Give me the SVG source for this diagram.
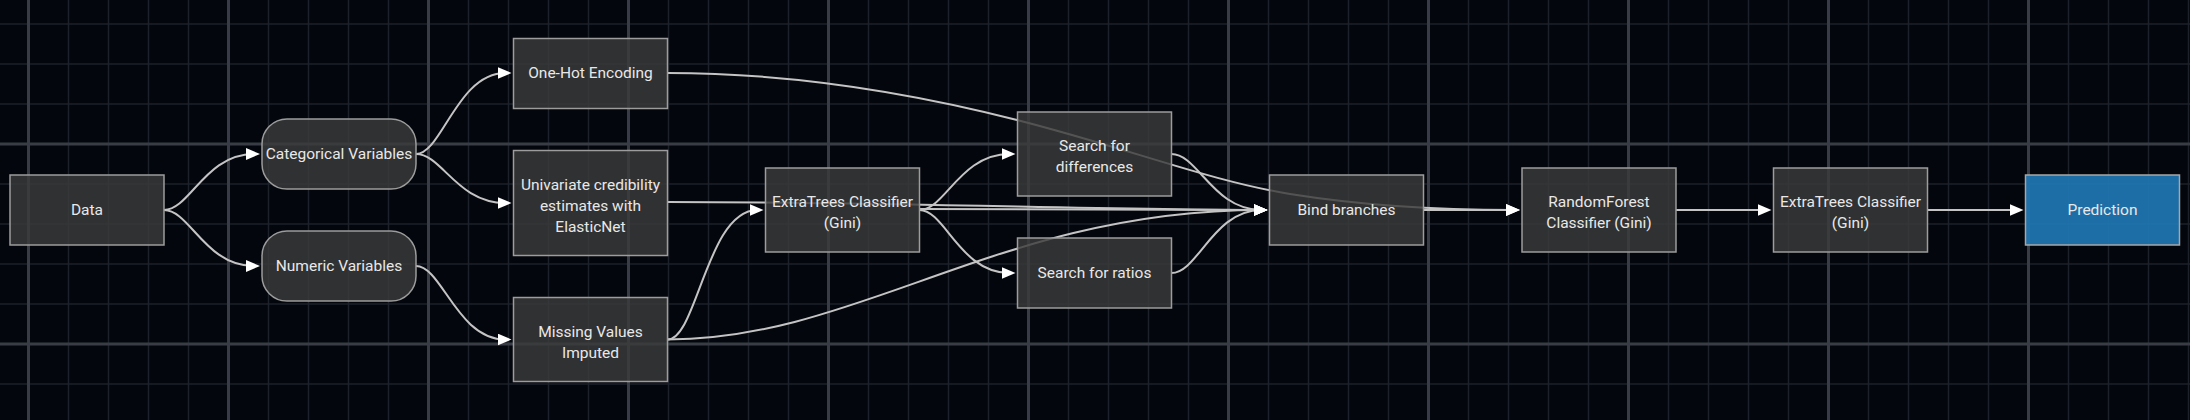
<svg xmlns="http://www.w3.org/2000/svg" width="2190" height="420" viewBox="0 0 2190 420">
<style>
.bg{fill:#03060d}
.gmin{stroke:#1d2129;stroke-width:1.5;fill:none}
.gmaj{stroke:#393c44;stroke-width:3;fill:none}
.node rect{fill:#3a3a3b;fill-opacity:0.82;stroke:#9c9c9c;stroke-width:1.5}
.node.blue rect{fill:#1f77b4;fill-opacity:0.92;stroke:#a8a8a8}
.node text{font-family:Roboto,"Liberation Sans",sans-serif;font-size:15.5px;fill:#e8e8e8;text-anchor:middle}
.edge{fill:none;stroke:#c4c4c4;stroke-width:2;marker-end:url(#arr)}
</style>
<defs>
<marker id="arr" viewBox="0 0 14 12" markerUnits="userSpaceOnUse" markerWidth="14" markerHeight="12" refX="8" refY="6" orient="auto">
<path d="M0,0 L14,6 L0,12 z" fill="#ffffff"/>
</marker>
</defs>
<rect class="bg" x="0" y="0" width="2190" height="420"/>
<g id="grid">
<path class="gmin" d="M28.5 0V420M68.5 0V420M108.5 0V420M148.5 0V420M188.5 0V420M228.5 0V420M268.5 0V420M308.5 0V420M348.5 0V420M388.5 0V420M428.5 0V420M468.5 0V420M508.5 0V420M548.5 0V420M588.5 0V420M628.5 0V420M668.5 0V420M708.5 0V420M748.5 0V420M788.5 0V420M828.5 0V420M868.5 0V420M908.5 0V420M948.5 0V420M988.5 0V420M1028.5 0V420M1068.5 0V420M1108.5 0V420M1148.5 0V420M1188.5 0V420M1228.5 0V420M1268.5 0V420M1308.5 0V420M1348.5 0V420M1388.5 0V420M1428.5 0V420M1468.5 0V420M1508.5 0V420M1548.5 0V420M1588.5 0V420M1628.5 0V420M1668.5 0V420M1708.5 0V420M1748.5 0V420M1788.5 0V420M1828.5 0V420M1868.5 0V420M1908.5 0V420M1948.5 0V420M1988.5 0V420M2028.5 0V420M2068.5 0V420M2108.5 0V420M2148.5 0V420M2188.5 0V420M0 24H2190M0 64H2190M0 104H2190M0 184H2190M0 224H2190M0 264H2190M0 304H2190M0 384H2190"/>
<path class="gmaj" d="M28.5 0V420M228.5 0V420M428.5 0V420M628.5 0V420M828.5 0V420M1028.5 0V420M1228.5 0V420M1428.5 0V420M1628.5 0V420M1828.5 0V420M2028.5 0V420M0 144H2190M0 344H2190"/>
</g>
<g id="edges">
<path class="edge" d="M164,210 C190,210 205,154 254,154"/>
<path class="edge" d="M164,210 C190,210 205,266 254,266"/>
<path class="edge" d="M416,154 C442,154 457,73 505.5,73"/>
<path class="edge" d="M416,154 C442,154 457,203 505.5,203"/>
<path class="edge" d="M416,266 C442,266 457,339.5 505.5,339.5"/>
<path class="edge" d="M667.5,73 C760,73 880,85 1017,120 C1127,148 1210,181 1290,194 C1340,202 1420,210 1514,210"/>
<path class="edge" d="M667.5,202 C900,202 1100,210 1261.5,210"/>
<path class="edge" d="M667.5,339.5 C697,339.5 707,210 757.5,210"/>
<path class="edge" d="M667.5,339.5 C860,339.5 1000,210 1261.5,210"/>
<path class="edge" d="M919.5,210 C945,210 960,154 1009.5,154"/>
<path class="edge" d="M919.5,210 C945,210 960,273 1009.5,273"/>
<path class="edge" d="M919.5,209 C1050,209 1150,210 1261.5,210"/>
<path class="edge" d="M1171.5,154 C1198,154 1213,210 1261.5,210"/>
<path class="edge" d="M1171.5,273 C1198,273 1213,210 1261.5,210"/>
<path class="edge" d="M1423.5,210 L1514,210"/>
<path class="edge" d="M1676,210 L1765.5,210"/>
<path class="edge" d="M1927.5,210 L2017.5,210"/>
</g>
<g id="n-data" class="node"><rect x="10" y="175" width="154" height="70"/><text x="87" y="214.5">Data</text></g>
<g id="n-cat" class="node"><rect x="262" y="119" width="154" height="70" rx="25" ry="25"/><text x="339" y="158.5">Categorical Variables</text></g>
<g id="n-num" class="node"><rect x="262" y="231" width="154" height="70" rx="25" ry="25"/><text x="339" y="270.5">Numeric Variables</text></g>
<g id="n-onehot" class="node"><rect x="513.5" y="38.5" width="154" height="70"/><text x="590.5" y="78">One-Hot Encoding</text></g>
<g id="n-univ" class="node"><rect x="513.5" y="150.5" width="154" height="105"/><text x="590.5" y="189.5">Univariate credibility</text><text x="590.5" y="210.5">estimates with</text><text x="590.5" y="231.5">ElasticNet</text></g>
<g id="n-missing" class="node"><rect x="513.5" y="297.5" width="154" height="84"/><text x="590.5" y="336.5">Missing Values</text><text x="590.5" y="357.5">Imputed</text></g>
<g id="n-et1" class="node"><rect x="765.5" y="168" width="154" height="84"/><text x="842.5" y="207">ExtraTrees Classifier</text><text x="842.5" y="228">(Gini)</text></g>
<g id="n-sdiff" class="node"><rect x="1017.5" y="112" width="154" height="84"/><text x="1094.5" y="151">Search for</text><text x="1094.5" y="172">differences</text></g>
<g id="n-sratio" class="node"><rect x="1017.5" y="238" width="154" height="70"/><text x="1094.5" y="277.5">Search for ratios</text></g>
<g id="n-bind" class="node"><rect x="1269.5" y="175" width="154" height="70"/><text x="1346.5" y="214.5">Bind branches</text></g>
<g id="n-rf" class="node"><rect x="1522" y="168" width="154" height="84"/><text x="1599" y="207">RandomForest</text><text x="1599" y="228">Classifier (Gini)</text></g>
<g id="n-et2" class="node"><rect x="1773.5" y="168" width="154" height="84"/><text x="1850.5" y="207">ExtraTrees Classifier</text><text x="1850.5" y="228">(Gini)</text></g>
<g id="n-pred" class="node blue"><rect x="2025.5" y="175" width="154" height="70"/><text x="2102.5" y="214.5">Prediction</text></g>
</svg>
